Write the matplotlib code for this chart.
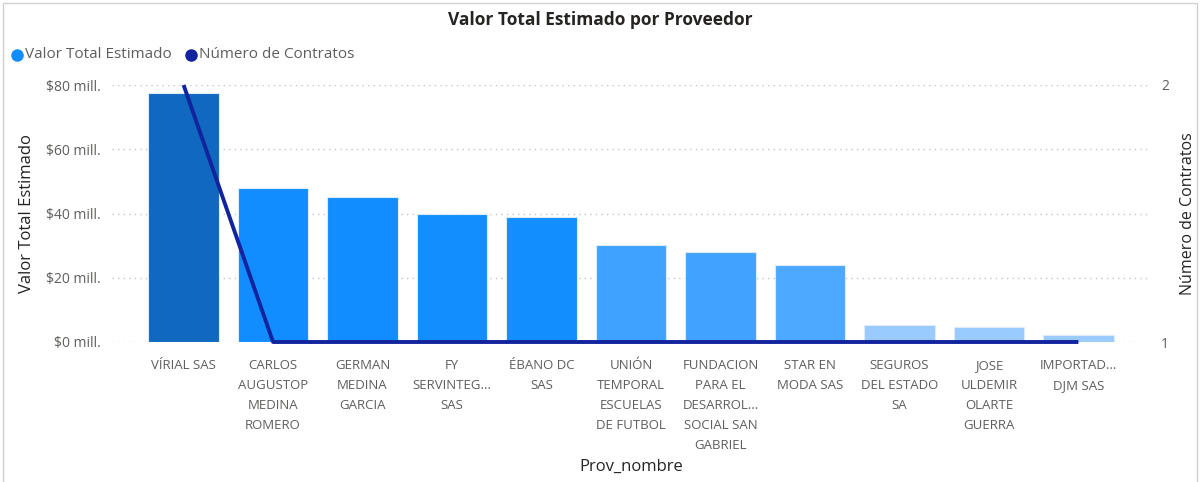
import matplotlib.pyplot as plt
from matplotlib.lines import Line2D
from matplotlib.patches import Rectangle
from matplotlib.ticker import FuncFormatter

plt.rcParams['font.family'] = ['Open Sans', 'DejaVu Sans']

# data
proveedores = ["VÍRIAL SAS", "CARLOS\nAUGUSTOP\nMEDINA\nROMERO", "GERMAN\nMEDINA\nGARCIA",
               "FY\nSERVINTEG...\nSAS", "ÉBANO DC\nSAS", "UNIÓN\nTEMPORAL\nESCUELAS\nDE FUTBOL",
               "FUNDACION\nPARA EL\nDESARROL...\nSOCIAL SAN\nGABRIEL", "STAR EN\nMODA SAS",
               "SEGUROS\nDEL ESTADO\nSA", "JOSE\nULDEMIR\nOLARTE\nGUERRA", "IMPORTAD...\nDJM SAS"]
valor_total = [77.5, 48.0, 45.2, 39.9, 38.9, 30.2, 28.0, 24.0, 5.3, 4.7, 2.2]  # millones
num_contratos = [2, 1, 1, 1, 1, 1, 1, 1, 1, 1, 1]
bar_colors = ["#1068BF", "#118DFF", "#118DFF", "#128EFF", "#138EFF", "#3FA2FF",
              "#41A3FF", "#4DA9FF", "#99CBFF", "#99CBFF", "#99CBFF"]

fig = plt.figure(figsize=(12.04, 4.82), dpi=100)
W, H = 1204, 482
ax = fig.add_axes([112 / W, 1 - 342 / H, (1150 - 112) / W, (342 - 85) / H])

x = list(range(len(proveedores)))
ax.bar(x, valor_total, width=0.79, color=bar_colors, edgecolor="#DCEBFA", linewidth=0.8, zorder=2)
ax.set_xlim(-0.8, 10.8)
ax.set_ylim(0, 80)
ax.set_yticks([0, 20, 40, 60, 80])
ax.yaxis.set_major_formatter(FuncFormatter(lambda v, p: "$%d mill." % v))
ax.grid(axis="y", color="#C8C6C4", linestyle=(0, (1, 3)), linewidth=1, zorder=0)
ax.set_xticks(x)
ax.set_xticklabels(proveedores, fontsize=9.5, color="#605E5C", linespacing=1.7, va="top")
ax.tick_params(axis="y", length=0, pad=8, labelsize=10, labelcolor="#605E5C")
ax.tick_params(axis="x", length=0, pad=12)
for s in ax.spines.values():
    s.set_visible(False)
ax.set_ylabel("Valor Total Estimado", fontsize=12, color="#252423", labelpad=8)
ax.set_xlabel("Prov_nombre", fontsize=12, color="#252423", labelpad=5)

ax2 = ax.twinx()
ax2.plot(x, num_contratos, color="#12239E", linewidth=2.8, zorder=3, clip_on=False,
         solid_capstyle="butt")
ax2.set_ylim(1, 2)
ax2.set_yticks([1, 2])
ax2.tick_params(axis="y", length=0, pad=8, labelsize=10, labelcolor="#605E5C")
for s in ax2.spines.values():
    s.set_visible(False)
ax2.set_ylabel("Número de Contratos", fontsize=11.5, color="#252423", labelpad=8)

fig.text(600 / W, 1 - 20 / H, "Valor Total Estimado por Proveedor", ha="center", va="center",
         fontsize=12.5, fontweight="bold", color="#252423")

# legend
for cx, tx, col, lab in [(17, 25, "#118DFF", "Valor Total Estimado"),
                         (191, 199, "#12239E", "Número de Contratos")]:
    fig.add_artist(Line2D([cx / W], [1 - 55 / H], marker="o", markersize=8, color=col,
                          linestyle="none", transform=fig.transFigure))
    fig.text(tx / W, 1 - 55 / H, lab, va="center", fontsize=11, color="#605E5C")

fig.patches.append(Rectangle((3 / W, -0.01), (1197 - 3) / W, 1 - 3 / H + 0.01,
                             transform=fig.transFigure, fill=False, edgecolor="#D0D0D0",
                             linewidth=1, figure=fig))

fig.savefig("out.png", dpi=100)
